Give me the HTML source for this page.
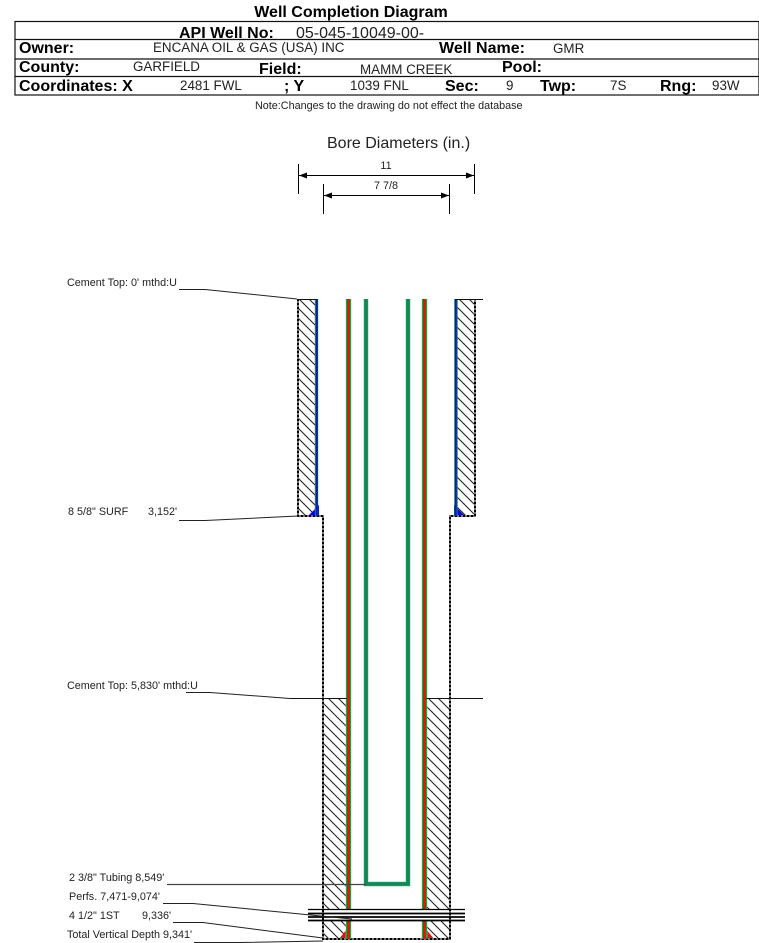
<!DOCTYPE html>
<html><head><meta charset="utf-8"><style>
html,body{margin:0;padding:0;background:#fff}
svg{display:block}
text{font-family:"Liberation Sans",Arial,sans-serif;fill:#222}
.b{font-weight:bold;font-size:16px;fill:#000}
.n{font-size:13.4px}
.s{font-size:10.8px}
</style></head><body>
<svg width="759" height="943" viewBox="0 0 759 943" xmlns="http://www.w3.org/2000/svg">
<defs>
<pattern id="h" width="10" height="10" patternUnits="userSpaceOnUse">
<path d="M-2,-2L12,12M-2,8L2,12M8,-2L12,2" stroke="#222" stroke-width="1.1" fill="none"/>
</pattern>
</defs>
<text x="351" y="17" text-anchor="middle" font-weight="bold" font-size="16" style="fill:#000">Well Completion Diagram</text>
<g fill="none" stroke="#111" stroke-width="1.2">
<rect x="15" y="21.5" width="744" height="73.5"/>
<path d="M15 39.5H759M15 59H759M15 76.5H759"/>
</g>
<text class="b" x="179" y="38">API Well No:</text>
<text x="296" y="38" font-size="16" style="fill:#222">05-045-10049-00-</text>
<text class="b" x="19" y="53">Owner:</text>
<text class="n" x="153" y="52">ENCANA OIL &amp; GAS (USA) INC</text>
<text class="b" x="439" y="53">Well Name:</text>
<text class="n" x="553" y="53">GMR</text>
<text class="b" x="19" y="72">County:</text>
<text class="n" x="133" y="71">GARFIELD</text>
<text class="b" x="259" y="74">Field:</text>
<text class="n" x="360" y="74">MAMM CREEK</text>
<text class="b" x="502" y="72">Pool:</text>
<text class="b" x="19" y="91">Coordinates: X</text>
<text class="n" x="180" y="90">2481 FWL</text>
<text class="b" x="284" y="91">; Y</text>
<text class="n" x="350" y="90">1039 FNL</text>
<text class="b" x="445" y="91">Sec:</text>
<text class="n" x="506" y="90">9</text>
<text class="b" x="540" y="91">Twp:</text>
<text class="n" x="610" y="90">7S</text>
<text class="b" x="660" y="91">Rng:</text>
<text class="n" x="712" y="90">93W</text>
<text class="s" x="255" y="109">Note:Changes to the drawing do not effect the database</text>

<text x="327" y="148" font-size="16">Bore Diameters (in.)</text>
<text class="s" x="386" y="169" text-anchor="middle">11</text>
<text class="s" x="386" y="189" text-anchor="middle">7 7/8</text>
<g stroke="#000" stroke-width="1" fill="none">
<path d="M298.5,164V194M474.5,164V194M323.5,184V214M449.5,184V214M299,175.5H474M324,195.5H449"/>
</g>
<g fill="#000">
<path d="M299,175.5l8,-3v6zM474,175.5l-8,-3v6zM324,195.5l8,-3v6zM449,195.5l-8,-3v6z"/>
</g>

<!-- hatch -->
<rect x="298" y="299" width="18" height="217" fill="url(#h)"/>
<rect x="457" y="299" width="18" height="217" fill="url(#h)"/>
<rect x="323" y="699" width="24" height="210" fill="url(#h)"/>
<rect x="426" y="699" width="24" height="210" fill="url(#h)"/>
<rect x="323" y="921" width="24" height="18" fill="url(#h)"/>
<rect x="426" y="921" width="24" height="18" fill="url(#h)"/>

<!-- cement wedge fills -->
<path d="M319,505L319,516H308Z" fill="#0000e0"/>
<path d="M454,505L454,516H465Z" fill="#0000e0"/>
<path d="M351,924L351,939H339Z" fill="#e81010"/>
<path d="M422,924L422,939H434Z" fill="#e81010"/>

<!-- outer bore -->
<g fill="none" stroke="#777" stroke-width="2">
<path d="M298,299V516H323V939H450V516H475V299"/>
</g>
<g fill="none" stroke="#000" stroke-width="2" stroke-dasharray="2 2">
<path d="M298,299V516H323V939H450V516H475V299"/>
</g>

<!-- surface casing blue -->
<g fill="none">
<path d="M316.5,299V516M456,299V516" stroke="#1a8a50" stroke-width="3.4"/>
<path d="M316.8,299V516M455.7,299V516" stroke="#0020b0" stroke-width="2"/>
</g>

<!-- production casing -->
<g fill="none">
<path d="M348.5,299V909M348.5,921V939M424.5,299V909M424.5,921V939" stroke="#9fd0a8" stroke-width="5.6"/>
<path d="M348.5,299V909M348.5,921V939M424.5,299V909M424.5,921V939" stroke="#1a8a30" stroke-width="4.6"/>
<path d="M348.5,299V909M348.5,921V939M424.5,299V909M424.5,921V939" stroke="#f01000" stroke-width="3"/>
</g>

<!-- tubing -->
<path d="M366,299V884H408V299" fill="none" stroke="#a5d6b5" stroke-width="5"/>
<path d="M366,299V884H408V299" fill="none" stroke="#0c8a55" stroke-width="3.8"/>

<!-- tops and cement lines -->
<g stroke="#111" stroke-width="1" fill="none">
<path d="M297,299.5H317M455,299.5H483"/>
<path d="M290,698.5H347M426,698.5H483"/>
</g>

<!-- perfs -->
<g stroke="#000" fill="none">
<path d="M308,909.5H465" stroke-width="1.2"/>
<path d="M308,913.5H465" stroke-width="1.8"/>
<path d="M308,917H465" stroke-width="1.8"/>
<path d="M308,920.5H465" stroke-width="1.8"/>
</g>

<!-- leaders -->
<g fill="none" stroke="#222" stroke-width="1">
<path d="M179,289.5H205L297,299"/>
<path d="M179,520.5H205L298,516"/>
<path d="M186,692.5H210L290,698.5"/>
<path d="M167,884.5H366" stroke="#444" stroke-width="1.3"/>
<path d="M163,903.5H193L352,919"/>
<path d="M173,922.5H203L323,938"/>
<path d="M194,942.5H240L323,941"/>
</g>

<!-- labels -->
<text class="s" x="67" y="286">Cement Top: 0' mthd:U</text>
<text class="s" x="68" y="515">8 5/8" SURF</text>
<text class="s" x="148" y="515">3,152'</text>
<text class="s" x="67" y="689">Cement Top: 5,830' mthd:U</text>
<text class="s" x="69" y="881">2 3/8" Tubing 8,549'</text>
<text class="s" x="69" y="900">Perfs. 7,471-9,074'</text>
<text class="s" x="69" y="919">4 1/2" 1ST</text>
<text class="s" x="142" y="919">9,336'</text>
<text class="s" x="67" y="938">Total Vertical Depth 9,341'</text>
</svg>
</body></html>
